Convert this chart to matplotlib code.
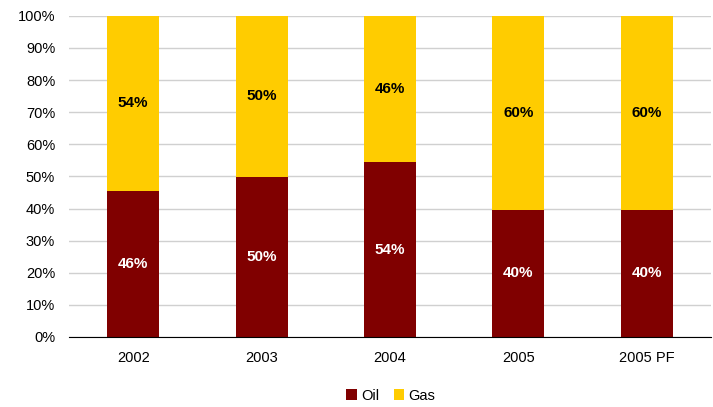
import matplotlib.pyplot as plt
from matplotlib.ticker import PercentFormatter

plt.rcParams['font.family'] = ['Liberation Sans', 'DejaVu Sans']

years = ['2002', '2003', '2004', '2005', '2005 PF']
oil = [45.6, 49.8, 54.4, 39.6, 39.6]
gas = [100 - v for v in oil]

oil_color = '#800000'
gas_color = '#FFCC00'

fig = plt.figure(figsize=(7.13, 4.07), dpi=100)
ax = fig.add_axes([0.0968, 0.172, 0.9, 0.789])

x = range(len(years))
b1 = ax.bar(x, oil, width=0.405, color=oil_color, label='Oil', zorder=3)
b2 = ax.bar(x, gas, width=0.405, bottom=oil, color=gas_color, label='Gas', zorder=3)

for i in x:
    ax.text(i, oil[i] / 2, f'{round(oil[i])}%', ha='center', va='center',
            color='white', fontsize=11, fontweight='bold', zorder=4)
    ax.text(i, oil[i] + gas[i] / 2, f'{round(gas[i])}%', ha='center', va='center',
            color='black', fontsize=11, fontweight='bold', zorder=4)

ax.set_xlim(-0.5, len(years) - 0.5)
ax.set_ylim(0, 100)
ax.set_yticks(range(0, 101, 10))
ax.yaxis.set_major_formatter(PercentFormatter(decimals=0))
ax.set_xticks(list(x))
ax.set_xticklabels(years)
ax.tick_params(axis='both', length=0, labelsize=10.5, colors='black')
ax.tick_params(axis='x', pad=10)
ax.tick_params(axis='y', pad=10)
ax.grid(axis='y', color='#d0d0d0', linewidth=1, zorder=0)
for s in ['top', 'right', 'left']:
    ax.spines[s].set_visible(False)
ax.spines['bottom'].set_color('black')
ax.spines['bottom'].set_zorder(5)

fig.legend(handles=[b1, b2], loc='center', bbox_to_anchor=(0.548, 0.028), ncol=2,
           frameon=False, fontsize=10.5, handlelength=0.7, handleheight=0.7,
           handletextpad=0.3, columnspacing=1.0)

fig.savefig('out.png', dpi=100)
